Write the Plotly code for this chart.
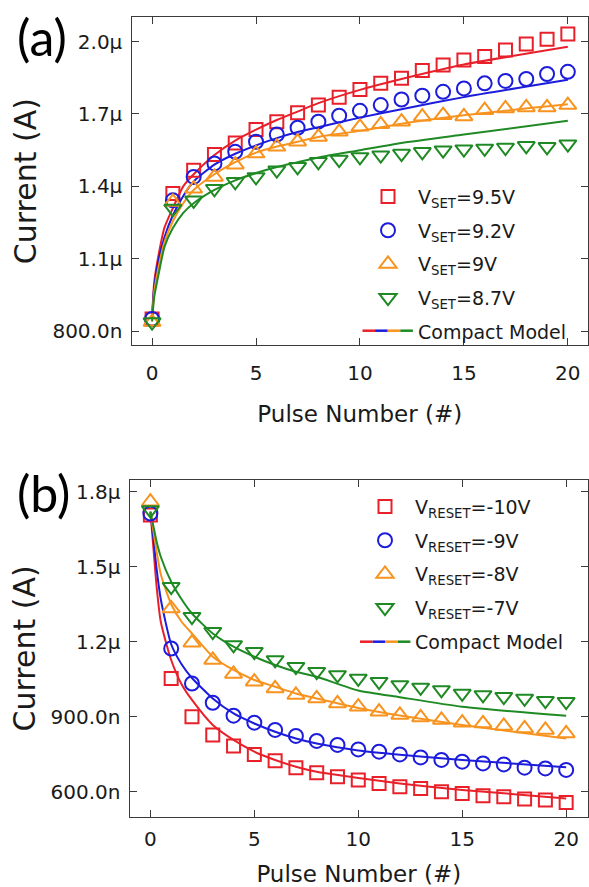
import plotly.graph_objects as go

# ---------------- data (currents in microamps) ----------------
pulse = list(range(21))

# (a) SET
set_red = [0.85, 1.37, 1.467, 1.532, 1.58, 1.636, 1.668, 1.705, 1.737, 1.769, 1.802,
           1.827, 1.848, 1.88, 1.903, 1.924, 1.938, 1.965, 1.99, 2.01, 2.032]
set_blue = [0.85, 1.342, 1.439, 1.495, 1.543, 1.585, 1.615, 1.643, 1.668, 1.693, 1.713,
            1.737, 1.76, 1.776, 1.792, 1.806, 1.827, 1.837, 1.845, 1.866, 1.875]
set_orange = [0.837, 1.335, 1.39, 1.439, 1.49, 1.536, 1.564, 1.585, 1.605, 1.626, 1.647,
              1.657, 1.668, 1.689, 1.695, 1.69, 1.716, 1.723, 1.727, 1.727, 1.737]
set_green = [0.837, 1.308, 1.342, 1.39, 1.419, 1.439, 1.467, 1.481, 1.502, 1.511, 1.522,
             1.529, 1.536, 1.543, 1.55, 1.554, 1.557, 1.561, 1.568, 1.564, 1.575]

set_model_x = [0, 0.1, 0.3, 0.6, 1, 1.5, 2, 3, 4, 5, 6, 7, 8, 10, 12, 15, 20]
set_model_red = [0.855, 1.0, 1.11, 1.23, 1.31, 1.40, 1.45, 1.53, 1.59, 1.635, 1.675, 1.71, 1.745, 1.80, 1.845, 1.905, 1.979]
set_model_blue = [0.855, 0.98, 1.09, 1.19, 1.28, 1.36, 1.42, 1.49, 1.535, 1.57, 1.60, 1.625, 1.645, 1.685, 1.72, 1.77, 1.842]
set_model_orange = [0.84, 0.96, 1.06, 1.17, 1.255, 1.33, 1.385, 1.45, 1.50, 1.54, 1.565, 1.585, 1.605, 1.63, 1.66, 1.695, 1.74]
set_model_green = [0.84, 0.94, 1.03, 1.15, 1.227, 1.29, 1.33, 1.385, 1.425, 1.455, 1.48, 1.50, 1.52, 1.55, 1.58, 1.615, 1.672]

set_names = ["V<sub>SET</sub>=9.5V", "V<sub>SET</sub>=9.2V", "V<sub>SET</sub>=9V", "V<sub>SET</sub>=8.7V"]

# (b) RESET
reset_red = [1.707, 1.053, 0.9, 0.827, 0.783, 0.749, 0.724, 0.696, 0.676, 0.66, 0.647,
             0.633, 0.62, 0.613, 0.6, 0.593, 0.584, 0.58, 0.571, 0.567, 0.557]
reset_blue = [1.713, 1.173, 1.033, 0.956, 0.904, 0.876, 0.847, 0.823, 0.803, 0.787, 0.769,
              0.76, 0.749, 0.737, 0.727, 0.72, 0.713, 0.709, 0.696, 0.693, 0.687]
reset_orange = [1.76, 1.333, 1.196, 1.127, 1.071, 1.04, 1.013, 0.987, 0.973, 0.953, 0.94,
                0.92, 0.907, 0.897, 0.887, 0.876, 0.873, 0.863, 0.853, 0.847, 0.833]
reset_green = [1.727, 1.42, 1.3, 1.24, 1.187, 1.16, 1.127, 1.1, 1.08, 1.067, 1.053,
               1.04, 1.027, 1.017, 1.007, 0.993, 0.987, 0.98, 0.973, 0.964, 0.96]

reset_model_x = [0, 0.15, 0.3, 0.5, 1, 1.5, 2, 3, 4, 5, 6, 7, 8, 10, 12, 15, 20]
reset_model_red = [1.72, 1.57, 1.42, 1.28, 1.127, 1.03, 0.967, 0.867, 0.807, 0.76, 0.727, 0.70, 0.68, 0.655, 0.633, 0.607, 0.573]
reset_model_blue = [1.72, 1.61, 1.49, 1.37, 1.19, 1.11, 1.055, 0.973, 0.913, 0.873, 0.84, 0.813, 0.793, 0.765, 0.748, 0.727, 0.698]
reset_model_orange = [1.72, 1.64, 1.56, 1.47, 1.35, 1.28, 1.233, 1.14, 1.087, 1.047, 1.02, 0.993, 0.973, 0.935, 0.905, 0.867, 0.813]
reset_model_green = [1.72, 1.66, 1.60, 1.54, 1.44, 1.37, 1.313, 1.233, 1.18, 1.14, 1.107, 1.08, 1.06, 1.005, 0.978, 0.94, 0.904]

reset_names = ["V<sub>RESET</sub>=-10V", "V<sub>RESET</sub>=-9V", "V<sub>RESET</sub>=-8V", "V<sub>RESET</sub>=-7V"]

x_ticks = [0, 5, 10, 15, 20]
set_yticks = [0.8, 1.1, 1.4, 1.7, 2.0]
set_yticktext = ["800.0n", "1.1\u03bc", "1.4\u03bc", "1.7\u03bc", "2.0\u03bc"]
reset_yticks = [0.6, 0.9, 1.2, 1.5, 1.8]
reset_yticktext = ["600.0n", "900.0n", "1.2\u03bc", "1.5\u03bc", "1.8\u03bc"]

# ---------------- styling ----------------
colors = ["#e8202a", "#1c1cdc", "#f7931e", "#1f8a24"]
symbols = ["square-open", "circle-open", "triangle-up-open", "triangle-down-open"]
sizes = [13, 14, 15, 15]
U = 1e-6
FONT = "DejaVu Sans"
W, H = 589, 887


def px(v):
    return v / W


def py(v):
    return 1 - v / H


fig = go.Figure()

panels = [
    ("x", "y", "legend", set_names,
     [set_red, set_blue, set_orange, set_green],
     set_model_x, [set_model_red, set_model_blue, set_model_orange, set_model_green]),
    ("x2", "y2", "legend2", reset_names,
     [reset_red, reset_blue, reset_orange, reset_green],
     reset_model_x, [reset_model_red, reset_model_blue, reset_model_orange, reset_model_green]),
]

for xa, ya, lg, names, series, mx, models in panels:
    for i in range(4):
        fig.add_trace(go.Scatter(
            x=mx, y=[v * U for v in models[i]], xaxis=xa, yaxis=ya,
            mode="lines", line=dict(color=colors[i], width=2, shape="spline", smoothing=0.6),
            showlegend=False, hoverinfo="skip"))
    for i in range(4):
        fig.add_trace(go.Scatter(
            x=pulse, y=[v * U for v in series[i]], xaxis=xa, yaxis=ya,
            mode="markers", name=names[i], legend=lg, legendgroup=lg + str(i),
            marker=dict(symbol=symbols[i], size=sizes[i], color=colors[i],
                        line=dict(width=2, color=colors[i]))))
    fig.add_trace(go.Scatter(
        x=[None], y=[None], xaxis=xa, yaxis=ya, mode="lines",
        name="Compact Model", legend=lg, legendgroup=lg + "m",
        line=dict(color="rgba(0,0,0,0)", width=2)))

axis_common = dict(
    showline=True, linecolor="#3a3a3a", linewidth=1.3, mirror="ticks",
    ticks="inside", ticklen=7, tickwidth=1.3, tickcolor="#3a3a3a",
    showgrid=False, zeroline=False, automargin=False,
    tickfont=dict(family=FONT, size=20, color="#1a1a1a"),
)

fig.update_layout(
    width=W, height=H, margin=dict(l=0, r=0, t=0, b=0),
    paper_bgcolor="white", plot_bgcolor="white",
    font=dict(family=FONT, color="#1a1a1a"),
    xaxis=dict(axis_common, domain=[px(131.5), px(588)], range=[-0.99, 20.97],
               tickvals=x_ticks, anchor="y", ticklabelstandoff=10,
               title=dict(text="Pulse Number (#)", font=dict(family=FONT, size=23), standoff=21)),
    yaxis=dict(axis_common, domain=[py(345), py(17.3)], range=[0.742 * U, 2.101 * U],
               tickvals=[v * U for v in set_yticks], ticktext=set_yticktext, anchor="x",
               ticklabelstandoff=4,
               title=dict(text="Current (A)", font=dict(family=FONT, size=30), standoff=6)),
    xaxis2=dict(axis_common, domain=[px(129.6), px(588)], range=[-1.0, 21.05],
                tickvals=x_ticks, anchor="y2", ticklabelstandoff=4,
                title=dict(text="Pulse Number (#)", font=dict(family=FONT, size=23), standoff=16)),
    yaxis2=dict(axis_common, domain=[py(816.7), py(480)], range=[0.5 * U, 1.847 * U],
                tickvals=[v * U for v in reset_yticks], ticktext=reset_yticktext, anchor="x2",
                ticklabelstandoff=4,
                title=dict(text="Current (A)", font=dict(family=FONT, size=30), standoff=6)),
    legend=dict(x=px(358), y=py(177.7), xanchor="left", yanchor="top",
                bgcolor="rgba(0,0,0,0)", borderwidth=0, itemwidth=50, tracegroupgap=6,
                font=dict(family=FONT, size=19, color="#1a1a1a")),
    legend2=dict(x=px(355), y=py(487.7), xanchor="left", yanchor="top",
                 bgcolor="rgba(0,0,0,0)", borderwidth=0, itemwidth=50, tracegroupgap=6,
                 font=dict(family=FONT, size=19, color="#1a1a1a")),
    annotations=[
        dict(text="(a)", x=px(42), y=py(37), xref="paper", yref="paper", showarrow=False,
             font=dict(family="Lato", size=50, color="black"), xanchor="center", yanchor="middle"),
        dict(text="(b)", x=px(43), y=py(493), xref="paper", yref="paper", showarrow=False,
             font=dict(family="Lato", size=50, color="black"), xanchor="center", yanchor="middle"),
    ],
)

# multi-coloured sample line for the "Compact Model" legend entries
shapes = []
for x0, yrow in [(362.5, 330.7), (360, 641.7)]:
    seg = 12.6
    for i, c in enumerate(colors):
        shapes.append(dict(type="line", xref="paper", yref="paper",
                           x0=px(x0 + i * seg), x1=px(x0 + (i + 1) * seg),
                           y0=py(yrow), y1=py(yrow), line=dict(color=c, width=2.5)))
fig.update_layout(shapes=shapes)

fig.write_html("out.html", config={"displayModeBar": False},
               post_script="document.body.style.margin='0';")
